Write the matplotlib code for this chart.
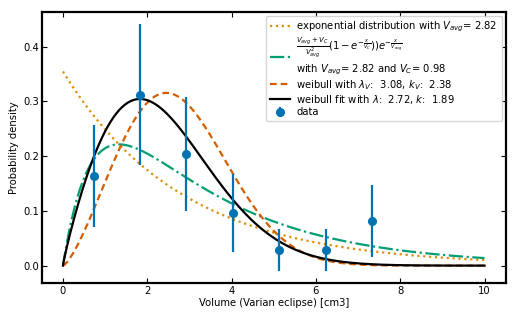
import matplotlib
matplotlib.use("Agg")
import matplotlib.pyplot as plt
import numpy as np

# binned data
vol_centres = [0.73, 1.83, 2.93, 4.03, 5.13, 6.23, 7.33]
density = [0.163, 0.312, 0.204, 0.096, 0.029, 0.029, 0.082]
density_err = [0.093, 0.129, 0.104, 0.071, 0.038, 0.038, 0.066]

# model parameters shown in the legend
v_avg = 2.82
v_c = 0.98
lam_v, k_v = 3.08, 2.38
lam_fit, k_fit = 2.72, 1.89

plt.rcParams['font.size'] = 7.2
plt.rcParams['xtick.direction'] = 'in'
plt.rcParams['ytick.direction'] = 'in'
plt.rcParams['xtick.top'] = True
plt.rcParams['ytick.right'] = True
plt.rcParams['xtick.major.pad'] = 2
plt.rcParams['ytick.major.pad'] = 2
plt.rcParams['axes.linewidth'] = 1.6

fig = plt.figure(figsize=(5.17, 3.2), dpi=100)
ax = fig.add_axes([0.081, 0.116, 0.897, 0.847])

x = np.linspace(0, 10, 300)


def weibull(v, lam, k):
    return (k / lam) * (v / lam) ** (k - 1) * np.exp(-(v / lam) ** k)


expo = np.exp(-x / v_avg) / v_avg
two_par = (v_avg + v_c) / v_avg**2 * (1 - np.exp(-x / v_c)) * np.exp(-x / v_avg)

ax.plot(x, expo, linestyle=':', color='#DE8F05', lw=1.6,
        label=r'exponential distribution with $V_{avg}$= 2.82')
ax.plot(x, two_par, linestyle='-.', color='#029E73', lw=1.6,
        label=r'$\frac{V_{avg}+V_C}{V_{avg}^2}(1-e^{-\frac{x}{V_C}}))e^{-\frac{x}{V_{avg}}}$'
              '\n' r'with $V_{avg}$= 2.82 and $V_C$= 0.98')
ax.plot(x, weibull(x, lam_v, k_v), linestyle=(0, (3, 1.8)), color='#D55E00', lw=1.6,
        label=r'weibull with $\lambda_V$:  3.08, $k_V$:  2.38')
ax.plot(x, weibull(x, lam_fit, k_fit), linestyle='-', color='black', lw=1.6,
        label=r'weibull fit with $\lambda$:  2.72, $k$:  1.89')
ax.errorbar(vol_centres, density, yerr=density_err, fmt='o', color='#0173B2',
            markersize=5.5, elinewidth=1.6, label='data')

ax.set_xlabel('Volume (Varian eclipse) [cm3]', labelpad=2)
ax.set_ylabel('Probability density', labelpad=3)
ax.set_xticks([0, 2, 4, 6, 8, 10])
ax.set_yticks([0.0, 0.1, 0.2, 0.3, 0.4])
ax.legend(loc='upper right', fontsize=7.2, labelspacing=0.12, handletextpad=0.6,
          borderaxespad=0.4)

fig.savefig('out.png', dpi=100)
